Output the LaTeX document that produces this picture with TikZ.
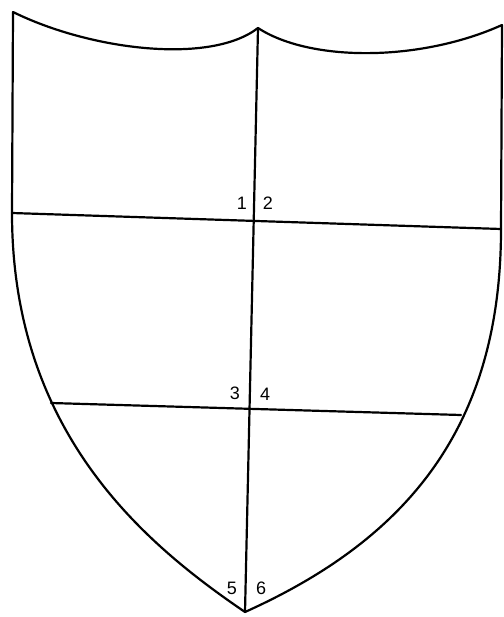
\documentclass[tikz,border=0pt]{standalone}
\usepackage{fontspec}
\setmainfont{Liberation Sans}
\begin{document}
\begin{tikzpicture}[x=1pt,y=-1pt,
  outline/.style={line width=2.2pt, line join=round, line cap=round},
  num/.style={inner sep=0pt, font=\fontsize{18}{18}\selectfont}]
\useasboundingbox (0,0) rectangle (503,617);
% key points
\coordinate (tl) at (13,12);
\coordinate (peak) at (258,28);
\coordinate (tr) at (502,25);
\coordinate (bot) at (245,612);
\coordinate (l1) at (12,213);
\coordinate (r1) at (501,229);
\coordinate (l2) at (51,403);
\coordinate (r2) at (461,415);
% shield outline
\draw[outline] (tl) .. controls (90,50) and (210,65) .. (peak)
  .. controls (310,62) and (420,62) .. (tr)
  -- (r1) .. controls (501,429) and (405,540) .. (bot)
  .. controls (145,544) and (12,433) .. (l1) -- cycle;
% dividing lines
\draw[outline] (peak) -- (bot);
\draw[outline] (l1) -- (r1);
\draw[outline] (l2) -- (r2);
% labels
\node[num] (n1) at (242,203) {1};
\node[num] (n2) at (268,203) {2};
\node[num] (n3) at (235,393) {3};
\node[num] (n4) at (265,394) {4};
\node[num] (n5) at (232,588) {5};
\node[num] (n6) at (261,588) {6};
\end{tikzpicture}
\end{document}
